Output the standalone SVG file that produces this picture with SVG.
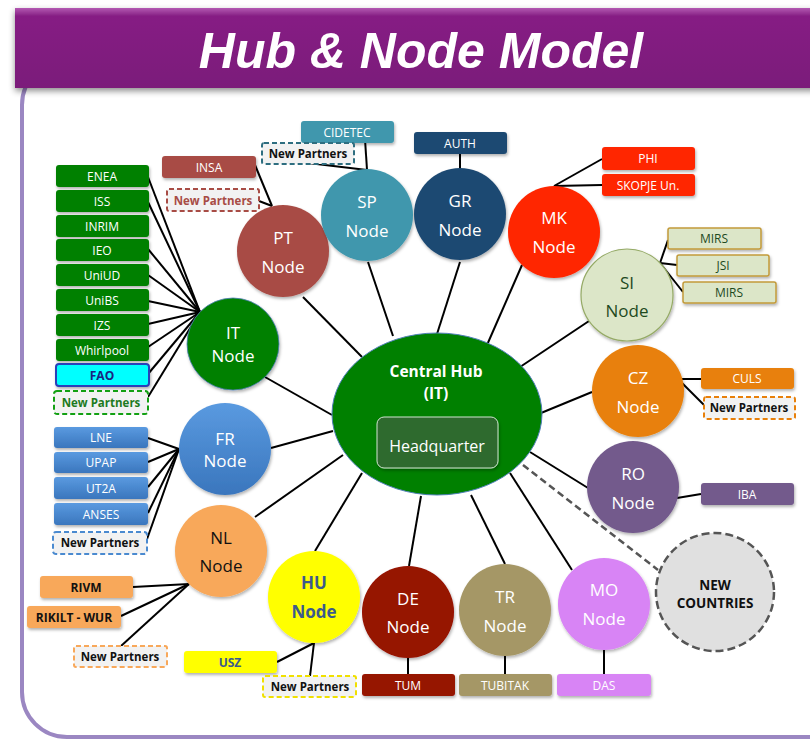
<svg xmlns="http://www.w3.org/2000/svg" width="810" height="740" viewBox="0 0 810 740">
<defs>
  <linearGradient id="gTitle" x1="0" y1="0" x2="0" y2="1">
    <stop offset="0" stop-color="#b358b2"/>
    <stop offset="0.1" stop-color="#861f84"/>
    <stop offset="1" stop-color="#7b1c7a"/>
  </linearGradient>
  <linearGradient id="gBlue" x1="0" y1="0" x2="0" y2="1">
    <stop offset="0" stop-color="#5a9ae0"/>
    <stop offset="1" stop-color="#3a76bd"/>
  </linearGradient>
  <filter id="sh" x="-20%" y="-20%" width="140%" height="150%">
    <feDropShadow dx="1" dy="2" stdDeviation="1.5" flood-color="#000" flood-opacity="0.3"/>
  </filter>
  <filter id="shT" x="-5%" y="-20%" width="110%" height="150%">
    <feDropShadow dx="0" dy="3" stdDeviation="3" flood-color="#000" flood-opacity="0.45"/>
  </filter>
</defs>
<style>
  .ln{stroke:#000;stroke-width:2;fill:none}
  .dl{stroke:#555;stroke-width:2.5;stroke-dasharray:7 4;fill:none}
  .nt{font-family:"Open Sans","Liberation Sans",sans-serif;font-size:17px;fill:#fff;text-anchor:middle}
  .pt{font-family:"Open Sans","Liberation Sans",sans-serif;font-size:12px;fill:#fff;text-anchor:middle}
  .np{font-family:"Open Sans","Liberation Sans",sans-serif;font-size:11.5px;font-weight:bold;fill:#111;text-anchor:middle}
  .npb{fill:#f2f2f2;stroke-width:2;stroke-dasharray:5 3}
  .cir{stroke:#4f7fb8;stroke-width:0.8}
</style>

<!-- frame -->
<rect x="22" y="60" width="840" height="677" rx="45" fill="#fff" stroke="#9b87c2" stroke-width="4"/>

<!-- title bar -->
<g id="title">
  <rect x="15" y="8" width="810" height="80" fill="url(#gTitle)" filter="url(#shT)"/>
  <text x="421" y="68" font-family="'Liberation Sans',Arial,sans-serif" font-size="50" font-weight="bold" font-style="italic" fill="#fff" text-anchor="middle">Hub &amp; Node Model</text>
</g>

<!-- connectors -->
<g id="connectors">
  <!-- spokes -->
  <line class="ln" x1="303" y1="297" x2="362" y2="357"/>
  <line class="ln" x1="368" y1="262" x2="393" y2="336"/>
  <line class="ln" x1="460" y1="262" x2="437" y2="334"/>
  <line class="ln" x1="522" y1="265" x2="487" y2="345"/>
  <line class="ln" x1="589" y1="321" x2="520" y2="367"/>
  <line class="ln" x1="592" y1="392" x2="541" y2="413"/>
  <line class="ln" x1="588" y1="488" x2="530" y2="452"/>
  <line class="dl" x1="523" y1="465" x2="658" y2="570"/>
  <line class="ln" x1="572" y1="570" x2="510" y2="473"/>
  <line class="ln" x1="505" y1="564" x2="471" y2="495"/>
  <line class="ln" x1="409" y1="566" x2="421" y2="496"/>
  <line class="ln" x1="315" y1="551" x2="362" y2="473"/>
  <line class="ln" x1="255" y1="517" x2="343" y2="455"/>
  <line class="ln" x1="271" y1="448" x2="333" y2="431"/>
  <line class="ln" x1="265" y1="377" x2="332" y2="415"/>
  <!-- IT partners -->
  <line class="ln" x1="200" y1="312" x2="148" y2="177"/>
  <line class="ln" x1="200" y1="312" x2="148" y2="202"/>
  <line class="ln" x1="200" y1="312" x2="148" y2="249"/>
  <line class="ln" x1="200" y1="312" x2="148" y2="275"/>
  <line class="ln" x1="200" y1="312" x2="148" y2="301"/>
  <line class="ln" x1="200" y1="312" x2="148" y2="324"/>
  <line class="ln" x1="200" y1="312" x2="148" y2="347"/>
  <line class="ln" x1="200" y1="312" x2="148" y2="374"/>
  <line class="ln" x1="200" y1="312" x2="148" y2="397"/>
  <!-- FR partners -->
  <line class="ln" x1="179" y1="449" x2="148" y2="438"/>
  <line class="ln" x1="179" y1="449" x2="148" y2="462"/>
  <line class="ln" x1="179" y1="449" x2="148" y2="487"/>
  <line class="ln" x1="179" y1="449" x2="148" y2="513"/>
  <line class="ln" x1="179" y1="449" x2="146" y2="542"/>
  <!-- NL partners -->
  <line class="ln" x1="189" y1="584" x2="133" y2="587"/>
  <line class="ln" x1="189" y1="584" x2="121" y2="616"/>
  <line class="ln" x1="189" y1="584" x2="121" y2="646"/>
  <!-- HU partners -->
  <line class="ln" x1="314" y1="643" x2="277" y2="662"/>
  <line class="ln" x1="314" y1="643" x2="310" y2="676"/>
  <!-- DE / TR / MO -->
  <line class="ln" x1="408" y1="655" x2="408" y2="674"/>
  <line class="ln" x1="505" y1="653" x2="505" y2="674"/>
  <line class="ln" x1="604" y1="647" x2="604" y2="674"/>
  <!-- RO -->
  <line class="ln" x1="677" y1="498" x2="701" y2="494"/>
  <!-- CZ -->
  <line class="ln" x1="680" y1="379" x2="701" y2="379"/>
  <line class="ln" x1="680" y1="381" x2="705" y2="406"/>
  <!-- SI -->
  <line class="ln" x1="660" y1="263" x2="668" y2="240"/>
  <line class="ln" x1="660" y1="263" x2="677" y2="265"/>
  <line class="ln" x1="660" y1="263" x2="683" y2="292"/>
  <!-- MK -->
  <line class="ln" x1="554" y1="186" x2="602" y2="159"/>
  <line class="ln" x1="554" y1="186" x2="602" y2="185"/>
  <!-- GR -->
  <line class="ln" x1="460" y1="154" x2="460" y2="170"/>
  <!-- SP -->
  <line class="ln" x1="365" y1="139" x2="367" y2="170"/>
  <line class="ln" x1="367" y1="170" x2="308" y2="163"/>
  <!-- PT -->
  <line class="ln" x1="272" y1="206" x2="255" y2="165"/>
  <line class="ln" x1="272" y1="206" x2="259" y2="201"/>
</g>

<!-- central hub -->
<g id="hub">
  <ellipse cx="437" cy="414" rx="105" ry="81" fill="#008000" stroke="#4f7fb8" stroke-width="1"/>
  <text x="436" y="377" font-family="'Open Sans','Liberation Sans',sans-serif" font-size="15.5" font-weight="bold" fill="#fff" text-anchor="middle">Central Hub</text>
  <text x="436" y="399" font-family="'Open Sans','Liberation Sans',sans-serif" font-size="15.5" font-weight="bold" fill="#fff" text-anchor="middle">(IT)</text>
  <rect x="377" y="417" width="121" height="51" rx="7" fill="#2f6a2f" stroke="#cfe3cf" stroke-width="1" filter="url(#sh)"/>
  <text x="437" y="452" font-family="'Open Sans','Liberation Sans',sans-serif" font-size="16" fill="#fff" text-anchor="middle">Headquarter</text>
</g>

<!-- IT node -->
<g id="node-it">
  <circle class="cir" cx="233" cy="344" r="46" fill="#008000" filter="url(#sh)"/>
  <text class="nt" x="233" y="339">IT</text>
  <text class="nt" x="233" y="362">Node</text>
</g>
<g id="it-partners">
  <g filter="url(#sh)" fill="#008000">
    <rect x="56" y="165" width="93" height="22" rx="3"/>
    <rect x="56" y="190" width="93" height="22" rx="3"/>
    <rect x="56" y="215" width="93" height="22" rx="3"/>
    <rect x="56" y="239" width="93" height="22" rx="3"/>
    <rect x="56" y="264" width="93" height="22" rx="3"/>
    <rect x="56" y="289" width="93" height="22" rx="3"/>
    <rect x="56" y="314" width="93" height="22" rx="3"/>
    <rect x="56" y="339" width="93" height="22" rx="3"/>
  </g>
  <text class="pt" x="102" y="181">ENEA</text>
  <text class="pt" x="102" y="206">ISS</text>
  <text class="pt" x="102" y="231">INRIM</text>
  <text class="pt" x="102" y="255">IEO</text>
  <text class="pt" x="102" y="280">UniUD</text>
  <text class="pt" x="102" y="305">UniBS</text>
  <text class="pt" x="102" y="330">IZS</text>
  <text class="pt" x="102" y="355">Whirlpool</text>
  <rect x="56" y="364" width="93" height="22" rx="3" fill="#00ffff" stroke="#2a3fb8" stroke-width="2" filter="url(#sh)"/>
  <text class="pt" x="102" y="380" style="font-weight:bold;fill:#1a2380">FAO</text>
  <rect class="npb" x="54" y="391" width="94" height="23" rx="3" stroke="#12a012"/>
  <text class="np" x="101" y="407" style="fill:#1e7a1e">New Partners</text>
</g>

<!-- PT node -->
<g id="node-pt">
  <circle cx="283" cy="251" r="46" fill="#a84c45" filter="url(#sh)"/>
  <text class="nt" x="283" y="244">PT</text>
  <text class="nt" x="283" y="273">Node</text>
  <rect x="162" y="156" width="94" height="22" rx="3" fill="#a84c45" filter="url(#sh)"/>
  <text class="pt" x="209" y="172">INSA</text>
  <rect class="npb" x="167" y="189" width="92" height="22" rx="2" stroke="#a84c45"/>
  <text class="np" x="213" y="205" style="fill:#a84c45">New Partners</text>
</g>

<!-- SP node -->
<g id="node-sp">
  <circle cx="367" cy="215" r="46" fill="#3f97ad" filter="url(#sh)"/>
  <text class="nt" x="367" y="208">SP</text>
  <text class="nt" x="367" y="237">Node</text>
  <rect x="301" y="121" width="93" height="22" rx="3" fill="#3f97ad" filter="url(#sh)"/>
  <text class="pt" x="347" y="137">CIDETEC</text>
  <rect class="npb" x="262" y="143" width="92" height="21" rx="2" stroke="#2e6e80"/>
  <text class="np" x="308" y="158">New Partners</text>
</g>

<!-- GR node -->
<g id="node-gr">
  <circle cx="460" cy="214" r="46" fill="#1f4a72" filter="url(#sh)"/>
  <text class="nt" x="460" y="207">GR</text>
  <text class="nt" x="460" y="236">Node</text>
  <rect x="414" y="132" width="93" height="22" rx="3" fill="#1f4a72" filter="url(#sh)"/>
  <text class="pt" x="460" y="148">AUTH</text>
</g>

<!-- MK node -->
<g id="node-mk">
  <circle cx="554" cy="232" r="46" fill="#ff2600" filter="url(#sh)"/>
  <text class="nt" x="554" y="224">MK</text>
  <text class="nt" x="554" y="253">Node</text>
  <rect x="602" y="147" width="93" height="23" rx="3" fill="#ff2600" filter="url(#sh)"/>
  <text class="pt" x="648" y="163">PHI</text>
  <rect x="602" y="174" width="93" height="22" rx="3" fill="#ff2600" filter="url(#sh)"/>
  <text class="pt" x="648" y="190">SKOPJE Un.</text>
</g>

<!-- SI node -->
<g id="node-si">
  <circle cx="627" cy="295" r="46" fill="#dce6c8" stroke="#95aa66" stroke-width="1.2" filter="url(#sh)"/>
  <text class="nt" x="627" y="289" style="fill:#1e4a1e">SI</text>
  <text class="nt" x="627" y="317" style="fill:#1e4a1e">Node</text>
  <g fill="#dce6c8" stroke="#c29a3a" stroke-width="1.5" filter="url(#sh)">
    <rect x="668" y="228" width="93" height="21" rx="2"/>
    <rect x="677" y="255" width="92" height="21" rx="2"/>
    <rect x="683" y="282" width="93" height="21" rx="2"/>
  </g>
  <text class="pt" x="714" y="243" style="fill:#1e4a1e">MIRS</text>
  <text class="pt" x="723" y="270" style="fill:#1e4a1e">JSI</text>
  <text class="pt" x="729" y="297" style="fill:#1e4a1e">MIRS</text>
</g>

<!-- CZ node -->
<g id="node-cz">
  <circle cx="638" cy="391" r="46" fill="#e8800a" filter="url(#sh)"/>
  <text class="nt" x="638" y="384">CZ</text>
  <text class="nt" x="638" y="413">Node</text>
  <rect x="701" y="368" width="93" height="21" rx="3" fill="#e8800a" filter="url(#sh)"/>
  <text class="pt" x="747" y="383">CULS</text>
  <rect class="npb" x="704" y="397" width="91" height="22" rx="2" stroke="#e8800a"/>
  <text class="np" x="749" y="412">New Partners</text>
</g>

<!-- RO node -->
<g id="node-ro">
  <circle cx="633" cy="487" r="46" fill="#735a8c" filter="url(#sh)"/>
  <text class="nt" x="633" y="480">RO</text>
  <text class="nt" x="633" y="509">Node</text>
  <rect x="701" y="483" width="93" height="22" rx="3" fill="#735a8c" filter="url(#sh)"/>
  <text class="pt" x="747" y="499">IBA</text>
</g>

<!-- NEW COUNTRIES -->
<g id="node-new">
  <circle cx="715" cy="592" r="59" fill="#e0e0e0" stroke="#555" stroke-width="2.5" stroke-dasharray="8 4"/>
  <text x="715" y="590" font-family="'Open Sans','Liberation Sans',sans-serif" font-size="13.5" font-weight="bold" fill="#111" text-anchor="middle">NEW</text>
  <text x="715" y="608" font-family="'Open Sans','Liberation Sans',sans-serif" font-size="13.5" font-weight="bold" fill="#111" text-anchor="middle">COUNTRIES</text>
</g>

<!-- MO node -->
<g id="node-mo">
  <circle cx="604" cy="604" r="46" fill="#d884f5" filter="url(#sh)"/>
  <text class="nt" x="604" y="596">MO</text>
  <text class="nt" x="604" y="625">Node</text>
  <rect x="557" y="674" width="94" height="22" rx="3" fill="#d884f5" filter="url(#sh)"/>
  <text class="pt" x="604" y="690">DAS</text>
</g>

<!-- TR node -->
<g id="node-tr">
  <circle cx="505" cy="610" r="46" fill="#a59766" filter="url(#sh)"/>
  <text class="nt" x="505" y="603">TR</text>
  <text class="nt" x="505" y="632">Node</text>
  <rect x="459" y="674" width="93" height="22" rx="3" fill="#a59766" filter="url(#sh)"/>
  <text class="pt" x="505" y="690">TUBITAK</text>
</g>

<!-- DE node -->
<g id="node-de">
  <circle cx="408" cy="612" r="46" fill="#961200" filter="url(#sh)"/>
  <text class="nt" x="408" y="605">DE</text>
  <text class="nt" x="408" y="633">Node</text>
  <rect x="362" y="674" width="93" height="22" rx="3" fill="#961200" filter="url(#sh)"/>
  <text class="pt" x="408" y="690">TUM</text>
</g>

<!-- HU node -->
<g id="node-hu">
  <circle cx="314" cy="597" r="46" fill="#ffff00" filter="url(#sh)"/>
  <text class="nt" x="314" y="589" style="font-weight:bold;fill:#3c5a8c">HU</text>
  <text class="nt" x="314" y="618" style="font-weight:bold;fill:#3c5a8c">Node</text>
  <rect x="184" y="651" width="93" height="22" rx="3" fill="#ffff00" filter="url(#sh)"/>
  <text class="pt" x="230" y="667" style="fill:#3c5a8c;font-weight:bold">USZ</text>
  <rect class="npb" x="263" y="676" width="93" height="21" rx="2" stroke="#f0e000"/>
  <text class="np" x="310" y="691">New Partners</text>
</g>

<!-- NL node -->
<g id="node-nl">
  <circle cx="221" cy="551" r="46" fill="#f8a85a" filter="url(#sh)"/>
  <text class="nt" x="221" y="544" style="fill:#111">NL</text>
  <text class="nt" x="221" y="572" style="fill:#111">Node</text>
  <rect x="40" y="576" width="93" height="22" rx="3" fill="#f8a85a" filter="url(#sh)"/>
  <text class="pt" x="86" y="592" style="fill:#111;font-weight:bold">RIVM</text>
  <rect x="27" y="606" width="94" height="22" rx="3" fill="#f8a85a" filter="url(#sh)"/>
  <text class="pt" x="74" y="622" style="fill:#111;font-weight:bold">RIKILT - WUR</text>
  <rect class="npb" x="74" y="646" width="93" height="21" rx="2" stroke="#f8a85a"/>
  <text class="np" x="120" y="661">New Partners</text>
</g>

<!-- FR node -->
<g id="node-fr">
  <circle cx="225" cy="449" r="46" fill="url(#gBlue)" filter="url(#sh)"/>
  <text class="nt" x="225" y="445">FR</text>
  <text class="nt" x="225" y="467">Node</text>
  <g fill="url(#gBlue)" filter="url(#sh)">
    <rect x="54" y="427" width="94" height="21" rx="3"/>
    <rect x="54" y="452" width="94" height="21" rx="3"/>
    <rect x="54" y="477" width="94" height="22" rx="3"/>
    <rect x="54" y="503" width="94" height="22" rx="3"/>
  </g>
  <text class="pt" x="101" y="442">LNE</text>
  <text class="pt" x="101" y="467">UPAP</text>
  <text class="pt" x="101" y="493">UT2A</text>
  <text class="pt" x="101" y="519">ANSES</text>
  <rect class="npb" x="53" y="532" width="94" height="22" rx="3" stroke="#4a8ad0"/>
  <text class="np" x="100" y="547">New Partners</text>
</g>
</svg>
